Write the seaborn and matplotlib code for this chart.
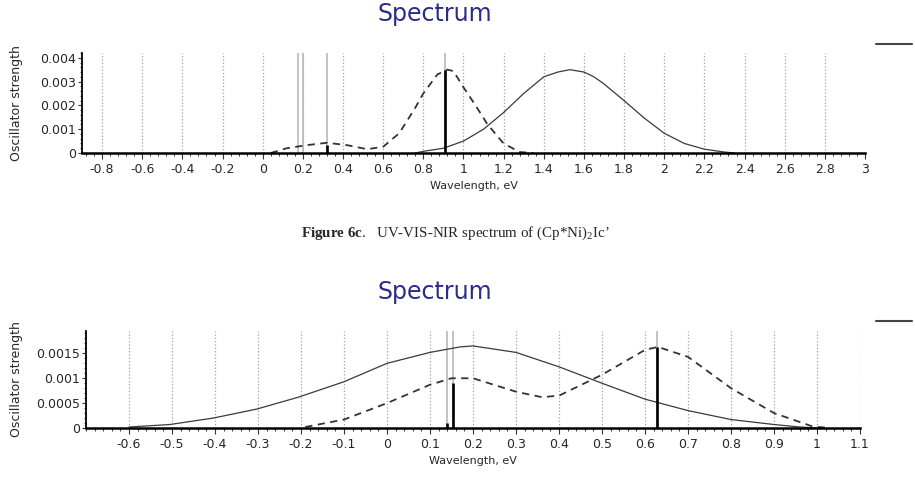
import numpy as np
import pandas as pd
import seaborn as sns
import matplotlib.pyplot as plt
from matplotlib import ticker
from matplotlib.lines import Line2D

# --- data ---
# top panel
top_solid_x = [0.76, 0.80, 0.90, 1.00, 1.10, 1.20, 1.30, 1.40, 1.47, 1.53, 1.60, 1.65,
               1.70, 1.80, 1.90, 2.00, 2.10, 2.20, 2.30, 2.35]
top_solid_y = [0, 0.00007, 0.0002, 0.0005, 0.0010, 0.0017, 0.0025, 0.0032, 0.0034, 0.0035,
               0.0034, 0.0032, 0.0029, 0.0022, 0.00147, 0.00083, 0.0004, 0.00016, 0.00004, 0]
top_dash_x = [0.04, 0.12, 0.22, 0.32, 0.42, 0.52, 0.60, 0.68, 0.76, 0.80, 0.87, 0.92,
              0.95, 1.00, 1.06, 1.12, 1.20, 1.28, 1.35]
top_dash_y = [0, 0.0002, 0.00033, 0.00043, 0.00033, 0.00016, 0.00026, 0.00083, 0.0019,
              0.0025, 0.0033, 0.0035, 0.00344, 0.00276, 0.0020, 0.0012, 0.0004, 0.00004, 0]
top_marks = [0.175, 0.20, 0.318, 0.908]
top_stick_x = [0.318, 0.908]
top_stick_h = [0.00035, 0.0035]

# bottom panel
bot_solid_x = [-0.60, -0.505, -0.404, -0.303, -0.206, -0.10, 0.0, 0.10, 0.17, 0.20, 0.30,
               0.40, 0.50, 0.60, 0.70, 0.80, 0.90, 0.96, 1.00]
bot_solid_y = [0.00002, 0.00007, 0.0002, 0.00038, 0.00062, 0.00093, 0.0013, 0.00152,
               0.00163, 0.00165, 0.00152, 0.00123, 0.0009, 0.00058, 0.00035, 0.00017,
               0.00007, 0.00002, 0]
bot_dash_x = [-0.19, -0.10, 0.0, 0.10, 0.15, 0.20, 0.30, 0.36, 0.40, 0.50, 0.60, 0.63,
              0.70, 0.80, 0.90, 0.99, 1.03]
bot_dash_y = [0.00002, 0.00017, 0.0005, 0.00087, 0.001, 0.001, 0.00073, 0.00062, 0.00065,
              0.00107, 0.00157, 0.00163, 0.00143, 0.0008, 0.0003, 0.00003, 0]
bot_marks = [0.139, 0.154, 0.628]
bot_stick_x = [0.139, 0.154, 0.628]
bot_stick_h = [0.0001, 0.0009, 0.00163]

top_xticks = [-0.8, -0.6, -0.4, -0.2, 0, 0.2, 0.4, 0.6, 0.8, 1, 1.2, 1.4, 1.6, 1.8, 2,
              2.2, 2.4, 2.6, 2.8, 3]
top_yticks = [0, 0.001, 0.002, 0.003, 0.004]
bot_xticks = [-0.6, -0.5, -0.4, -0.3, -0.2, -0.1, 0, 0.1, 0.2, 0.3, 0.4, 0.5, 0.6, 0.7,
              0.8, 0.9, 1, 1.1]
bot_yticks = [0, 0.0005, 0.001, 0.0015]

caption = r"$\mathbf{Figure\ 6c}$.   UV-VIS-NIR spectrum of (Cp*Ni)$_2$Ic’"

sns.set_style("white")
plt.rcParams['font.family'] = ['DejaVu Sans']
plt.rcParams['mathtext.fontset'] = 'custom'
plt.rcParams['mathtext.rm'] = 'Liberation Serif'
plt.rcParams['mathtext.bf'] = 'Liberation Serif:bold'
plt.rcParams['mathtext.it'] = 'Liberation Serif:italic'

W, H = 915, 488
fig = plt.figure(figsize=(W / 100, H / 100), dpi=100)
ax_top = fig.add_axes([82 / W, 1 - 153 / H, 783 / W, 100 / H])
ax_bot = fig.add_axes([86 / W, 1 - 428 / H, 774 / W, 97 / H])


def fmt(v, pos):
    return f"{round(v, 5) + 0:g}"


def draw_panel(ax, sx, sy, dx, dy, marks, stx, sth, xticks, yticks, xlim, ylim,
               xminor, yminor, title_y, legend_y, grid_last=True):
    for m in marks:
        ax.axvline(m, color='#b8b8b8', lw=1.2, zorder=1)
    sns.lineplot(x=sx, y=sy, ax=ax, color='#3a3a3a', lw=0.9, zorder=3)
    sns.lineplot(x=dx, y=dy, ax=ax, color='#333333', lw=1.3,
                 linestyle=(0, (4, 3)), zorder=3)
    ax.vlines(stx, 0, sth, color='black', lw=1.9, zorder=4)

    ax.set_xlim(*xlim)
    ax.set_ylim(*ylim)
    ax.set_xticks(xticks)
    ax.set_yticks(yticks)
    ax.xaxis.set_minor_locator(ticker.AutoMinorLocator(xminor))
    ax.yaxis.set_minor_locator(ticker.AutoMinorLocator(yminor))
    ax.xaxis.set_major_formatter(ticker.FuncFormatter(fmt))
    ax.yaxis.set_major_formatter(ticker.FuncFormatter(fmt))
    ax.tick_params(axis='x', which='major', direction='out', length=4.5, width=0.8,
                   color='#333', labelsize=9, pad=2.5, bottom=True)
    ax.tick_params(axis='x', which='minor', direction='out', length=2.5, width=0.7,
                   color='#333', bottom=True)
    ax.tick_params(axis='y', which='major', direction='out', length=3, width=0.8,
                   color='#333', labelsize=9, pad=1.5, left=True)
    ax.tick_params(axis='y', which='minor', direction='out', length=1.8, width=0.6,
                   color='#333', left=True)

    ax.grid(axis='x', which='major', linestyle=':', color='#a0a0a0', lw=0.9)
    ax.grid(axis='y', visible=False)
    if not grid_last:
        ax.xaxis.get_gridlines()[-1].set_visible(False)
    ax.set_axisbelow(True)

    for s in ['top', 'right']:
        ax.spines[s].set_visible(False)
    ax.spines['left'].set_linewidth(1.3)
    ax.spines['left'].set_color('black')
    ax.spines['bottom'].set_linewidth(1.8)
    ax.spines['bottom'].set_color('black')
    ax.spines['bottom'].set_zorder(5)

    ax.set_xlabel('Wavelength, eV', fontsize=8, labelpad=3.5)
    ax.set_ylabel('Oscillator strength', fontsize=9)
    bb = ax.get_position()
    ax.yaxis.set_label_coords((23 / W - bb.x0) / bb.width, 0.5)

    fig.text(435 / W, 1 - title_y / H, 'Spectrum', ha='center', va='center',
             fontsize=17, color='#2b2b88')
    ax.legend(handles=[Line2D([], [], color='#444444', lw=1.5)], labels=[''],
              loc='center left', bbox_to_anchor=(876 / W, 1 - legend_y / H),
              bbox_transform=fig.transFigure, frameon=False, handlelength=2.6,
              handletextpad=0, borderpad=0, borderaxespad=0)


draw_panel(ax_top, top_solid_x, top_solid_y, top_dash_x, top_dash_y, top_marks,
           top_stick_x, top_stick_h, top_xticks, top_yticks, (-0.9, 3.0), (0, 0.0042),
           5, 5, 14, 45, grid_last=False)
draw_panel(ax_bot, bot_solid_x, bot_solid_y, bot_dash_x, bot_dash_y, bot_marks,
           bot_stick_x, bot_stick_h, bot_xticks, bot_yticks, (-0.7, 1.1), (0, 0.00195),
           5, 5, 292, 322)

fig.text(455 / W, 1 - 233 / H, caption, ha='center', va='center', fontsize=10.8,
         family='Liberation Serif')

fig.savefig('out.png', dpi=100)
